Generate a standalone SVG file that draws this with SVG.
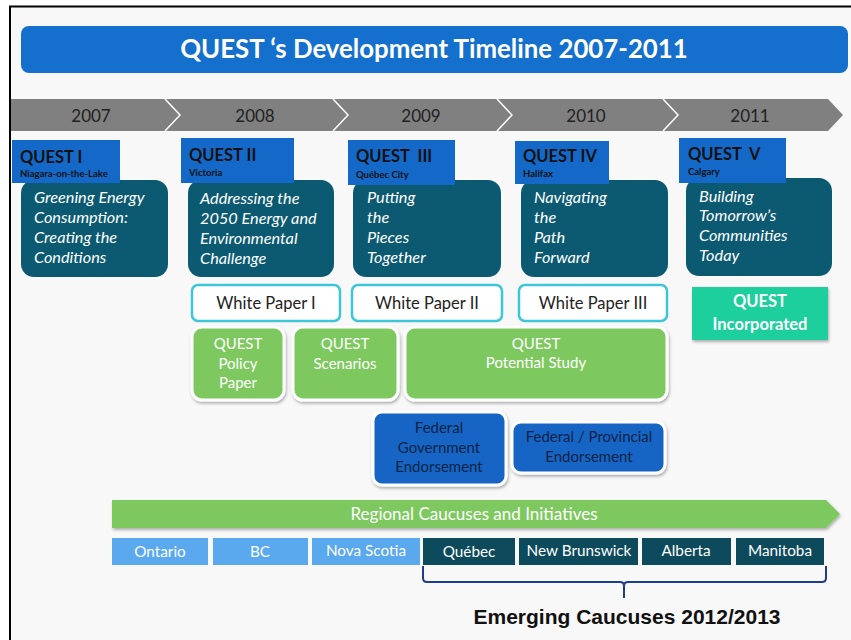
<svg xmlns="http://www.w3.org/2000/svg" width="851" height="640" viewBox="0 0 851 640">
<defs>
<filter id="sh" x="-10%" y="-10%" width="130%" height="140%">
<feDropShadow dx="1" dy="2" stdDeviation="1.5" flood-color="#000" flood-opacity="0.3"/>
</filter>
<style>
text{font-family:Lato,"Open Sans","Liberation Sans",sans-serif}
.title{font-size:25.8px;font-weight:bold;fill:#fff}
.yr{font-size:17px;fill:#222}
.qh{font-size:16.5px;font-weight:bold;fill:#111}
.qs{font-size:9.5px;font-weight:bold;fill:#111}
.hdr{fill:#1469c8}
.teal{fill:#0c5a72}
.it{font-size:16.3px;font-style:italic;fill:#fff}
.wp{fill:#fff;stroke:#3cc6d6;stroke-width:2.5}
.wpt{font-size:16.5px;fill:#222;text-anchor:middle}
.gr{fill:#7ec95f;stroke:#fff;stroke-width:3;filter:url(#sh)}
.grt{font-size:15px;fill:#fff;text-anchor:middle}
.bl{fill:#1565c4;stroke:#fff;stroke-width:3;filter:url(#sh)}
.blt{font-size:15px;fill:#0c2346;text-anchor:middle}
.lb{fill:#5aa8ee}
.dk{fill:#0d4a5c}
.pt{font-size:15.3px;fill:#fff;text-anchor:middle}
.em{font-family:"Liberation Sans",Arial,sans-serif;font-size:21px;font-weight:bold;fill:#111}
</style>
</defs>
<rect x="0" y="0" width="851" height="640" fill="#fff"/>
<rect x="10" y="6" width="841" height="634" fill="#f8f8f8"/>
<path d="M10 640 V6.5 H851" fill="none" stroke="#000" stroke-width="2"/>

<g id="title">
<rect x="21" y="26" width="827" height="47" rx="8" fill="#1470cc"/>
<text class="title" x="434" y="58" text-anchor="middle">QUEST ‘s Development Timeline 2007-2011</text>
</g>

<g id="timeline">
<path d="M11 99 H828 L843 115 L828 131 H11 Z" fill="#808080"/>
<g fill="none" stroke="#fff" stroke-width="1.5">
<path d="M165 99 L180 115 L165 131"/>
<path d="M333 99 L348 115 L333 131"/>
<path d="M497 99 L512 115 L497 131"/>
<path d="M663 99 L678 115 L663 131"/>
</g>
<text class="yr" x="91" y="122" text-anchor="middle">2007</text>
<text class="yr" x="255" y="122" text-anchor="middle">2008</text>
<text class="yr" x="421" y="122" text-anchor="middle">2009</text>
<text class="yr" x="586" y="122" text-anchor="middle">2010</text>
<text class="yr" x="750" y="122" text-anchor="middle">2011</text>
</g>

<g id="quest1">
<rect class="teal" x="21" y="180" width="147" height="97" rx="13"/>
<rect class="hdr" x="12" y="140" width="108" height="43"/>
<text class="qh" x="20" y="163">QUEST I</text>
<text class="qs" x="20" y="177">Niagara-on-the-Lake</text>
<text class="it" x="34" y="203">Greening Energy</text>
<text class="it" x="34" y="223">Consumption:</text>
<text class="it" x="34" y="243">Creating the</text>
<text class="it" x="34" y="263">Conditions</text>
</g>

<g id="quest2">
<rect class="teal" x="188" y="180" width="146" height="97" rx="13"/>
<rect class="hdr" x="181" y="138" width="113" height="45"/>
<text class="qh" x="189" y="161">QUEST II</text>
<text class="qs" x="189" y="176">Victoria</text>
<text class="it" x="200" y="204">Addressing the</text>
<text class="it" x="200" y="224">2050 Energy and</text>
<text class="it" x="200" y="244">Environmental</text>
<text class="it" x="200" y="264">Challenge</text>
</g>

<g id="quest3">
<rect class="teal" x="353" y="180" width="148" height="97" rx="13"/>
<rect class="hdr" x="348" y="140" width="107" height="45"/>
<text class="qh" x="356" y="162">QUEST&#160;&#160;III</text>
<text class="qs" x="356" y="178">Québec City</text>
<text class="it" x="367" y="203">Putting</text>
<text class="it" x="367" y="223">the</text>
<text class="it" x="367" y="243">Pieces</text>
<text class="it" x="367" y="263">Together</text>
</g>

<g id="quest4">
<rect class="teal" x="521" y="180" width="147" height="97" rx="13"/>
<rect class="hdr" x="515" y="141" width="94" height="43"/>
<text class="qh" x="523" y="162">QUEST IV</text>
<text class="qs" x="523" y="177">Halifax</text>
<text class="it" x="534" y="203">Navigating</text>
<text class="it" x="534" y="223">the</text>
<text class="it" x="534" y="243">Path</text>
<text class="it" x="534" y="263">Forward</text>
</g>

<g id="quest5">
<rect class="teal" x="686" y="178" width="146" height="98" rx="13"/>
<rect class="hdr" x="679" y="138" width="107" height="45"/>
<text class="qh" x="688" y="160">QUEST&#160;&#160;V</text>
<text class="qs" x="688" y="175">Calgary</text>
<text class="it" x="699" y="202">Building</text>
<text class="it" x="699" y="221">Tomorrow’s</text>
<text class="it" x="699" y="241">Communities</text>
<text class="it" x="699" y="261">Today</text>
</g>

<g id="wp1"><rect class="wp" x="192" y="285" width="148" height="36" rx="6"/><text class="wpt" x="266" y="309">White Paper I</text></g>
<g id="wp2"><rect class="wp" x="352" y="285" width="150" height="36" rx="6"/><text class="wpt" x="427" y="309">White Paper II</text></g>
<g id="wp3"><rect class="wp" x="519" y="285" width="148" height="36" rx="6"/><text class="wpt" x="593" y="309">White Paper III</text></g>

<g id="incorporated">
<rect x="692" y="287" width="136" height="53" fill="#1ccf9c" filter="url(#sh)"/>
<text x="760" y="307" font-weight="bold" fill="#fff" text-anchor="middle" style="font-size:16.5px">QUEST</text>
<text x="760" y="330" font-weight="bold" fill="#fff" text-anchor="middle" style="font-size:16.5px">Incorporated</text>
</g>

<g id="policy"><rect class="gr" x="192" y="327" width="92" height="73" rx="10"/>
<text class="grt" x="238" y="349">QUEST</text><text class="grt" x="238" y="369">Policy</text><text class="grt" x="238" y="388">Paper</text></g>
<g id="scenarios"><rect class="gr" x="293" y="327" width="105" height="73" rx="10"/>
<text class="grt" x="345" y="349">QUEST</text><text class="grt" x="345" y="369">Scenarios</text></g>
<g id="potential"><rect class="gr" x="405" y="327" width="262" height="73" rx="10"/>
<text class="grt" x="536" y="349">QUEST</text><text class="grt" x="536" y="368">Potential Study</text></g>

<g id="fedgov"><rect class="bl" x="373" y="412" width="133" height="73" rx="9"/>
<text class="blt" x="439" y="433">Federal</text><text class="blt" x="439" y="453">Government</text><text class="blt" x="439" y="472">Endorsement</text></g>
<g id="fedprov"><rect class="bl" x="512" y="422" width="153" height="51" rx="9"/>
<text class="blt" x="589" y="442">Federal / Provincial</text><text class="blt" x="589" y="462">Endorsement</text></g>

<g id="regional">
<path d="M112 500 H826 L840 514 L826 528 H112 Z" fill="#7ec95f" filter="url(#sh)"/>
<text x="474" y="520" fill="#fff" text-anchor="middle" style="font-size:17px">Regional Caucuses and Initiatives</text>
</g>

<g id="provinces">
<rect class="lb" x="112" y="538" width="96" height="27"/><text class="pt" x="160" y="557">Ontario</text>
<rect class="lb" x="213" y="538" width="95" height="27"/><text class="pt" x="260" y="557">BC</text>
<rect class="lb" x="312" y="538" width="108" height="27"/><text class="pt" x="366" y="556">Nova Scotia</text>
<rect class="dk" x="423" y="538" width="92" height="27"/><text class="pt" x="469" y="557">Québec</text>
<rect class="dk" x="519" y="538" width="119" height="27"/><text class="pt" x="579" y="556">New Brunswick</text>
<rect class="dk" x="642" y="538" width="89" height="27"/><text class="pt" x="686" y="556">Alberta</text>
<rect class="dk" x="736" y="538" width="88" height="27"/><text class="pt" x="780" y="556">Manitoba</text>
</g>

<g id="connectors">
<path d="M423 566 V578 Q423 582 427 582 H620 Q624 582 624 586 V598 M624 586 Q624 582 628 582 H822 Q826 582 826 578 V566" fill="none" stroke="#1f3d8c" stroke-width="2"/>
</g>
<text class="em" x="627" y="624" text-anchor="middle">Emerging Caucuses 2012/2013</text>
</svg>
